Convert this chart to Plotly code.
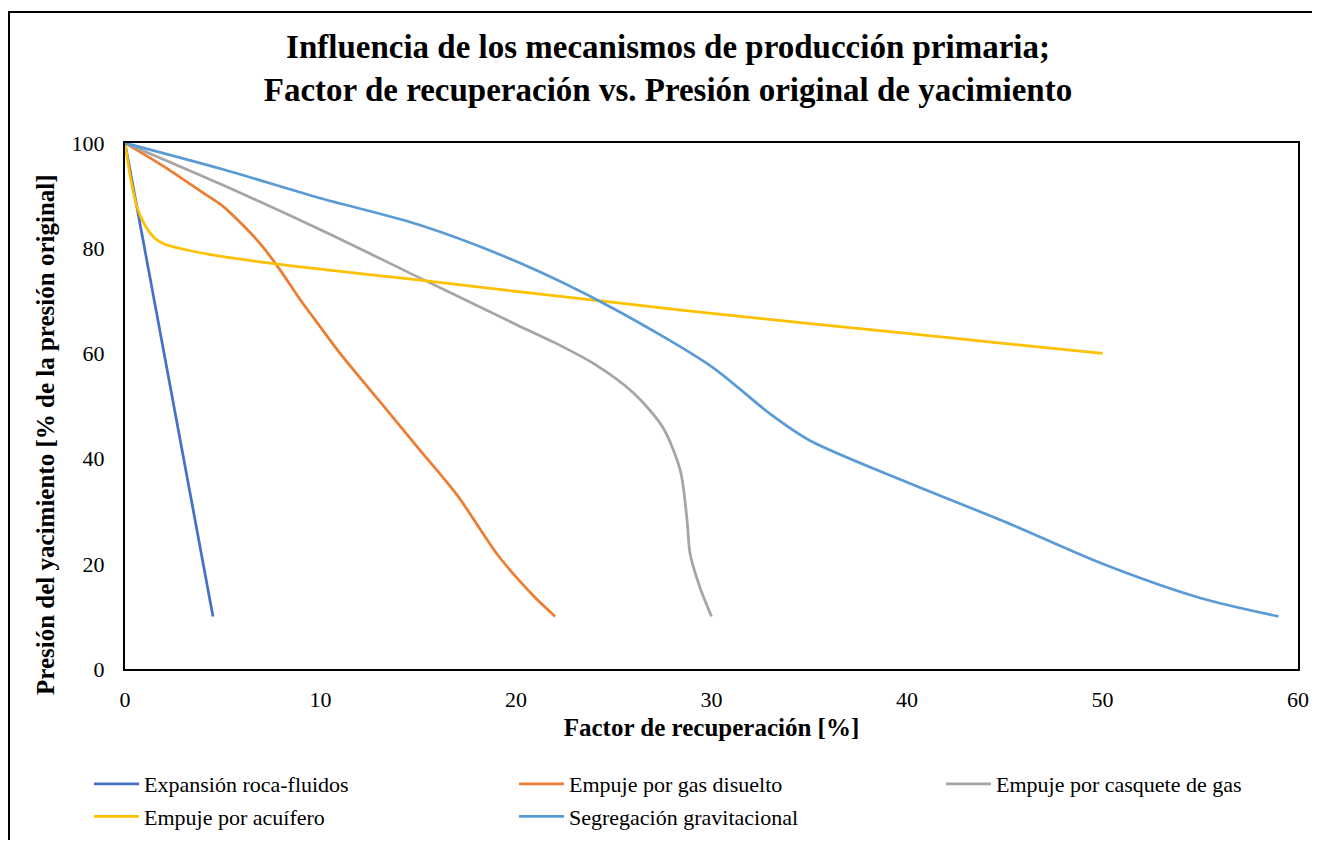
import plotly.graph_objects as go

# Data
exp_x = [0, 4.5]
exp_y = [100, 10]

gas_x = [0, 2, 4, 5, 6, 7, 8, 9, 10, 11, 13, 15, 17, 19, 20, 21, 22]
gas_y = [100, 95.5, 90.5, 88, 84.5, 80.5, 75.5, 70, 65, 60, 51, 42, 33, 22, 17.5, 13.5, 10]

cap_x = [0, 5, 10, 15, 20, 22, 24, 26, 27.5, 28.4, 28.75, 28.9, 29.4, 30]
cap_y = [100, 92, 83.5, 74.5, 65.5, 62, 58, 52.5, 46, 37.8, 28.3, 22, 15.6, 10]

acu_x = [0, 0.3, 0.6, 1, 1.5, 2, 3, 5, 10, 15, 20, 25, 30, 40, 50]
acu_y = [100, 93, 88, 84.5, 82, 80.8, 79.8, 78.4, 76, 74, 71.8, 69.7, 67.6, 63.8, 60]

seg_x = [0, 5, 10, 15, 20, 25, 30, 33, 35, 40, 45, 50, 55, 59]
seg_y = [100, 95, 89.5, 84.5, 77.5, 68.5, 57.5, 48.5, 43.5, 35.5, 28, 20, 13.5, 10]

series = [
    ("Expansión roca-fluidos", exp_x, exp_y, "#4472C4", "legend"),
    ("Empuje por gas disuelto", gas_x, gas_y, "#ED7D31", "legend2"),
    ("Empuje por casquete de gas", cap_x, cap_y, "#A5A5A5", "legend3"),
    ("Empuje por acuífero", acu_x, acu_y, "#FFC000", "legend"),
    ("Segregación gravitacional", seg_x, seg_y, "#5B9BD5", "legend2"),
]

fig = go.Figure()
for i, (name, x, y, c, lg) in enumerate(series):
    fig.add_trace(go.Scatter(x=x, y=y, name=name, mode="lines", legend=lg,
                             legendgroup="g%d" % i,
                             line=dict(color=c, width=2.75, shape="spline", smoothing=0.8)))

font_family = "Liberation Serif"
W, H = 1304, 832
L, T = 117, 135
R = W - 1290
B = H - 661
PW = W - L - R
PH = H - T - B


def px_x(x):
    return (x - L) / PW


def px_y(y):
    return (H - B - y) / PH


leg_common = dict(orientation="v", yanchor="top", xanchor="left",
                  font=dict(size=22, family=font_family, color="black"),
                  itemwidth=45, tracegroupgap=1, bgcolor="rgba(0,0,0,0)")
leg_y = px_y(755)

fig.update_layout(
    width=W, height=H,
    paper_bgcolor="white", plot_bgcolor="white",
    margin=dict(l=L, r=R, t=T, b=B, autoexpand=False),
    font=dict(family=font_family, color="black", size=22),
    title=dict(
        text="<b>Influencia de los mecanismos de producción primaria;<br>Factor de recuperación vs. Presión original de yacimiento</b>",
        x=px_x(660), xanchor="center", y=1 - 50 / H, yanchor="top",
        xref="paper",
        font=dict(family=font_family, size=33, color="black"),
    ),
    xaxis=dict(range=[0, 60], dtick=10, showgrid=False, zeroline=False,
               showline=True, linecolor="black", linewidth=2, mirror=True,
               ticks="outside", ticklen=10, tickcolor="rgba(0,0,0,0)",
               tickfont=dict(size=22),
               title=dict(text="<b>Factor de recuperación [%]</b>", font=dict(size=25), standoff=7)),
    yaxis=dict(range=[0, 100], dtick=20, showgrid=False, zeroline=False,
               showline=True, linecolor="black", linewidth=2, mirror=True,
               ticks="outside", ticklen=14, tickcolor="rgba(0,0,0,0)",
               tickfont=dict(size=22)),
    legend=dict(x=px_x(81), y=leg_y, **leg_common),
    legend2=dict(x=px_x(506), y=leg_y, **leg_common),
    legend3=dict(x=px_x(933), y=leg_y, **leg_common),
    showlegend=True,
)

fig.add_annotation(text="<b>Presión del yacimiento [% de la presión original]</b>",
                   xref="paper", yref="paper", x=px_x(37), y=px_y(427),
                   xanchor="center", yanchor="middle", textangle=-90, showarrow=False,
                   font=dict(family=font_family, size=25, color="black"))

fig.add_shape(type="rect", xref="paper", yref="paper",
              x0=px_x(1), x1=1.2, y0=-0.6, y1=px_y(4),
              line=dict(color="black", width=2), fillcolor="rgba(0,0,0,0)", layer="below")

fig.write_html("out.html")
